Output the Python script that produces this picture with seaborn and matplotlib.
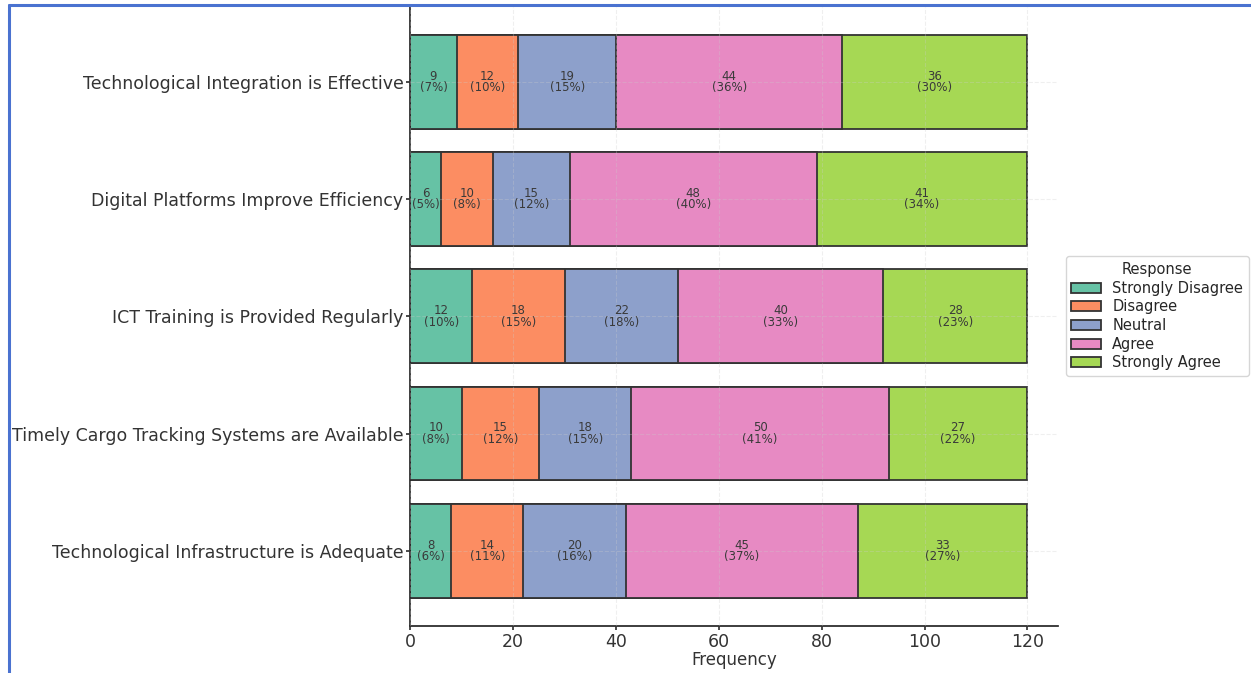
import matplotlib
matplotlib.use("Agg")
import matplotlib.pyplot as plt
from matplotlib.patches import Patch
from matplotlib.lines import Line2D
import numpy as np
import seaborn as sns

# Survey statements (top to bottom) and response counts
statements = [
    "Technological Integration is Effective",
    "Digital Platforms Improve Efficiency",
    "ICT Training is Provided Regularly",
    "Timely Cargo Tracking Systems are Available",
    "Technological Infrastructure is Adequate",
]
responses = ["Strongly Disagree", "Disagree", "Neutral", "Agree", "Strongly Agree"]

strongly_disagree = [9, 6, 12, 10, 8]
disagree = [12, 10, 18, 15, 14]
neutral = [19, 15, 22, 18, 20]
agree = [44, 48, 40, 50, 45]
strongly_agree = [36, 41, 28, 27, 33]

counts = np.array([strongly_disagree, disagree, neutral, agree, strongly_agree]).T
totals = counts.sum(axis=1)
cum = counts.cumsum(axis=1)

sns.set_theme(style="ticks")
colors = sns.color_palette("Set2", 5)
plt.rcParams["font.family"] = ["DejaVu Sans"]

fig = plt.figure(figsize=(12.51, 6.73), dpi=100)
ax = fig.add_axes([0.328, 0.070, 0.518, 0.920])

edge = "#333333"
# Stack by drawing cumulative totals from the widest layer inward
for j in reversed(range(len(responses))):
    sns.barplot(x=cum[:, j], y=statements, orient="h", color=colors[j],
                saturation=1, edgecolor=edge, linewidth=1.3, width=0.8, ax=ax)

# Segment labels: count and share of the statement total
for i in range(len(statements)):
    for j in range(len(responses)):
        v = counts[i, j]
        start = cum[i, j] - v
        pct = int(v / totals[i] * 100)
        ax.text(start + v / 2, i, f"{v}\n({pct}%)", ha="center", va="center",
                fontsize=8.5, color="#3a3a3a", linespacing=0.85)

ax.set_xlim(0, 126)
ax.set_ylim(4.64, -0.64)
ax.set_xticks([0, 20, 40, 60, 80, 100, 120])
ax.set_xlabel("Frequency", fontsize=12, color="#333333", labelpad=0)
ax.set_ylabel("")
ax.tick_params(axis="both", labelsize=12.5, colors="#333333", length=3, pad=2)
ax.grid(True, linestyle="--", linewidth=0.8, alpha=0.3)
ax.set_axisbelow(False)
for ln in ax.get_xgridlines() + ax.get_ygridlines():
    ln.set_zorder(1.5)
sns.despine(ax=ax)

handles = [Patch(facecolor=colors[j], edgecolor=edge, linewidth=1.3, label=responses[j])
           for j in range(len(responses))]
leg = ax.legend(handles=handles, title="Response", loc="center left",
                bbox_to_anchor=(1.0, 0.5), fontsize=10.5, title_fontsize=10.5,
                frameon=True, handlelength=2.0, labelspacing=0.25)
leg.get_frame().set_edgecolor("#cccccc")

# Blue page frame along the top and left edges
fig.add_artist(Line2D([0.007, 0.007], [0.0, 0.992], transform=fig.transFigure,
                      color="#4a72d0", linewidth=2.2))
fig.add_artist(Line2D([0.007, 1.0], [0.992, 0.992], transform=fig.transFigure,
                      color="#4a72d0", linewidth=2.2))

fig.savefig("out.png", dpi=100)
